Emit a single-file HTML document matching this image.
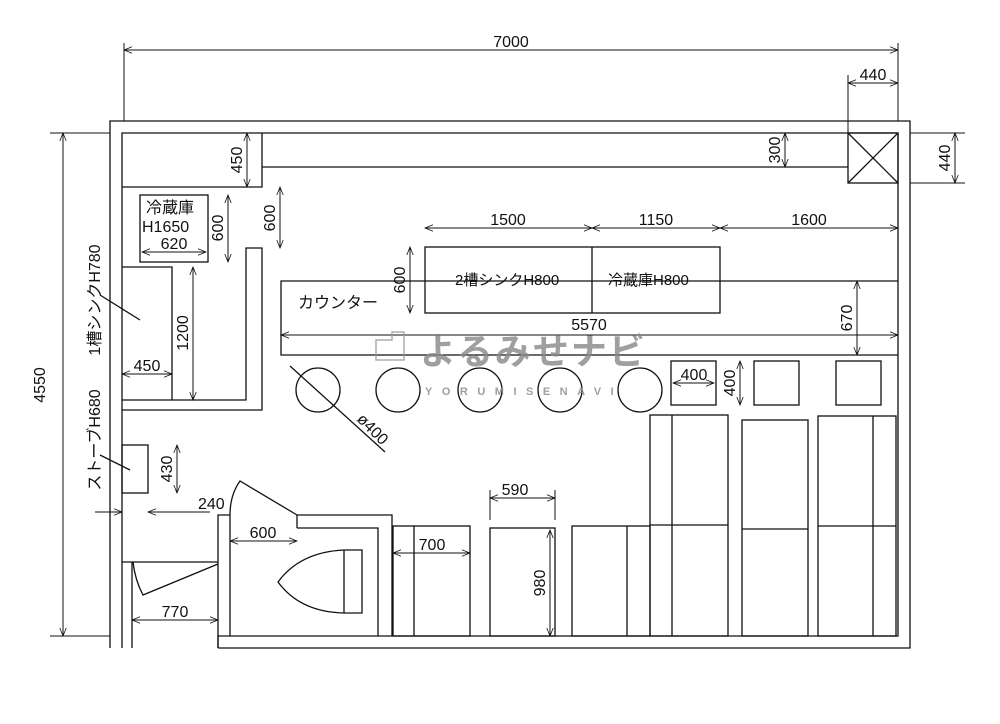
<!DOCTYPE html>
<html><head><meta charset="utf-8"><style>
html,body{margin:0;padding:0;background:#fff}
svg{display:block}
text{font-family:"Liberation Sans","Noto Sans CJK JP",sans-serif;fill:#111}
</style></head><body>
<svg width="1000" height="724" viewBox="0 0 1000 724" xmlns="http://www.w3.org/2000/svg">
<defs>
<marker id="a" viewBox="0 0 10 10" refX="10" refY="5" markerWidth="10" markerHeight="8" orient="auto-start-reverse" markerUnits="userSpaceOnUse"><path d="M0,1 L10,5 L0,9" fill="none" stroke="#111" stroke-width="1"/></marker>
</defs>
<g fill="none" stroke="#111" stroke-width="1.3">
<path d="M110,648 V121 H910 V648 H218"/>
<path d="M122,648 V133 H898 V636 H218 V648"/>
<path d="M122,562 H132 V648 M122,562 H218"/>
<path d="M122,187 H262 V133 M262,167 H848"/>
<rect x="848" y="133" width="50" height="50"/>
<path d="M848,133 L898,183 M898,133 L848,183"/>
<rect x="140" y="195" width="68" height="67"/>
<path d="M122,267 H172 V400"/>
<path d="M122,400 H246 V248 H262 V410 H122"/>
<path d="M898,281 H281 V355 H898"/>
<rect x="425" y="247" width="295" height="66"/>
<path d="M592,247 V313"/>
<circle cx="318" cy="390" r="22"/><circle cx="398" cy="390" r="22"/><circle cx="480" cy="390" r="22"/><circle cx="560" cy="390" r="22"/><circle cx="640" cy="390" r="22"/>
<rect x="671" y="361" width="45" height="44"/><rect x="754" y="361" width="45" height="44"/><rect x="836" y="361" width="45" height="44"/>
<rect x="650" y="415" width="78" height="221"/><path d="M672,415 V636 M650,525 H728"/>
<rect x="742" y="420" width="66" height="216"/><path d="M742,529 H808"/>
<rect x="818" y="416" width="78" height="220"/><path d="M873,416 V636 M818,526 H896"/>
<rect x="572" y="526" width="78" height="110"/><path d="M627,526 V636"/>
<rect x="490" y="528" width="65" height="108"/>
<rect x="393" y="526" width="77" height="110"/><path d="M414,526 V636"/>
<path d="M218,648 V515 H230 V636 M297,528 V515 H392 V636 M297,528 H378 V636"/>
<path d="M297,515 L240,481 Q230,495 230,515"/>
<path d="M344,550 V613 H362 V550 Z M344,550 Q300,552 278,582 Q300,612 344,613"/>
<path d="M218,564 L143,595 Q135,580 133,562"/>
<rect x="122" y="445" width="26" height="48"/>
<path d="M100,295 L140,320 M100,455 L130,470"/>
<path d="M290,366 L385,452"/>
</g>
<g fill="none" stroke="#111" stroke-width="1">
<path d="M124,43 V121 M898,43 V121 M848,75 V133 M910,133 H965 M910,183 H965 M50,133 H110 M50,636 H110"/>
<path d="M490,490 V520 M555,490 V520"/>
</g>
<g stroke="#111" stroke-width="1" marker-start="url(#a)" marker-end="url(#a)">
<line x1="124" y1="50" x2="898" y2="50"/>
<line x1="848" y1="83" x2="898" y2="83"/>
<line x1="955" y1="133" x2="955" y2="183"/>
<line x1="63" y1="133" x2="63" y2="636"/>
<line x1="247" y1="133" x2="247" y2="187"/>
<line x1="785" y1="133" x2="785" y2="167"/>
<line x1="142" y1="252" x2="206" y2="252"/>
<line x1="228" y1="195" x2="228" y2="262"/>
<line x1="280" y1="187" x2="280" y2="248"/>
<line x1="193" y1="267" x2="193" y2="400"/>
<line x1="122" y1="374" x2="172" y2="374"/>
<line x1="425" y1="228" x2="592" y2="228"/>
<line x1="592" y1="228" x2="720" y2="228"/>
<line x1="720" y1="228" x2="898" y2="228"/>
<line x1="410" y1="247" x2="410" y2="313"/>
<line x1="281" y1="335" x2="898" y2="335"/>
<line x1="857" y1="281" x2="857" y2="355"/>
<line x1="673" y1="383" x2="714" y2="383"/>
<line x1="740" y1="361" x2="740" y2="405"/>
<line x1="177" y1="445" x2="177" y2="493"/>
<line x1="230" y1="541" x2="297" y2="541"/>
<line x1="393" y1="553" x2="470" y2="553"/>
<line x1="490" y1="498" x2="555" y2="498"/>
<line x1="550" y1="530" x2="550" y2="636"/>
<line x1="132" y1="620" x2="218" y2="620"/>
</g>
<g stroke="#111" stroke-width="1" fill="none">
<line x1="95" y1="512" x2="122" y2="512" marker-end="url(#a)"/>
<line x1="210" y1="512" x2="148" y2="512" marker-end="url(#a)"/>
</g>
<g opacity="0.8">
<text x="420" y="364" font-size="36" font-weight="bold" style="fill:#888" letter-spacing="2">よるみせナビ</text>
<text x="425" y="395" font-size="11" font-weight="bold" style="fill:#888" letter-spacing="9.5">YORUMISENAVI</text>
<path d="M376,360 V340 H392 V332 H404 V360 Z" fill="none" stroke="#999" stroke-width="1.5"/>
</g>
<g font-size="16">
<text x="511" y="47" text-anchor="middle">7000</text>
<text x="873" y="80" text-anchor="middle">440</text>
<text x="146" y="213">冷蔵庫</text>
<text x="142" y="232">H1650</text>
<text x="174" y="249" text-anchor="middle">620</text>
<text x="147" y="371" text-anchor="middle">450</text>
<text x="298" y="308">カウンター</text>
<text x="508" y="225" text-anchor="middle">1500</text>
<text x="656" y="225" text-anchor="middle">1150</text>
<text x="809" y="225" text-anchor="middle">1600</text>
<text x="589" y="330" text-anchor="middle">5570</text>
<text x="694" y="380" text-anchor="middle">400</text>
<text x="198" y="509">240</text>
<text x="263" y="538" text-anchor="middle">600</text>
<text x="432" y="550" text-anchor="middle">700</text>
<text x="515" y="495" text-anchor="middle">590</text>
<text x="175" y="617" text-anchor="middle">770</text>
</g>
<g font-size="15">
<text x="455" y="285">2槽シンクH800</text>
<text x="608" y="285">冷蔵庫H800</text>
</g>
<g font-size="16">
<text transform="translate(242,160) rotate(-90)" text-anchor="middle">450</text>
<text transform="translate(780,150) rotate(-90)" text-anchor="middle">300</text>
<text transform="translate(950,158) rotate(-90)" text-anchor="middle">440</text>
<text transform="translate(45,385) rotate(-90)" text-anchor="middle">4550</text>
<text transform="translate(223,228) rotate(-90)" text-anchor="middle">600</text>
<text transform="translate(275,218) rotate(-90)" text-anchor="middle">600</text>
<text transform="translate(188,333) rotate(-90)" text-anchor="middle">1200</text>
<text transform="translate(405,280) rotate(-90)" text-anchor="middle">600</text>
<text transform="translate(852,318) rotate(-90)" text-anchor="middle">670</text>
<text transform="translate(735,383) rotate(-90)" text-anchor="middle">400</text>
<text transform="translate(172,469) rotate(-90)" text-anchor="middle">430</text>
<text transform="translate(545,583) rotate(-90)" text-anchor="middle">980</text>
<text transform="translate(100,300) rotate(-90)" text-anchor="middle">1槽シンクH780</text>
<text transform="translate(100,440) rotate(-90)" text-anchor="middle">ストーブH680</text>
<text transform="translate(356,420) rotate(45)">ø400</text>
</g>
</svg>
</body></html>
